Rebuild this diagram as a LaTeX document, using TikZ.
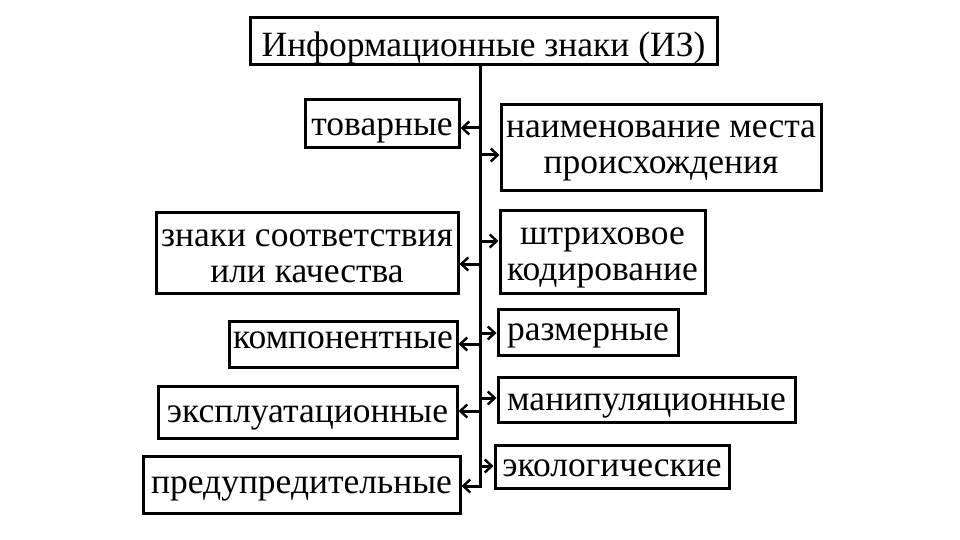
\documentclass[tikz,border=0pt]{standalone}
\usepackage{fontspec}
\setmainfont{Liberation Serif}
\usetikzlibrary{arrows.meta}
\begin{document}
\begin{tikzpicture}[x=1pt,y=-1pt,
  box/.style={draw=black,line width=3pt,inner sep=0pt,align=center,
    font=\fontsize{35.5}{36}\selectfont},
  off/.style={text height=20pt+#1, text depth=20pt-#1},
  offtwo/.style={text height=35pt+#1, text depth=35pt-#1},
  trunkline/.style={line width=3pt},
  arr/.style={line width=3pt,-{Straight Barb[length=7pt,width=13pt,line width=2.4pt]}}]
\useasboundingbox (0,0) rectangle (960,540);
\fill[white] (0,0) rectangle (960,540);
\node[box,off=15.5pt,minimum width=467pt,minimum height=47pt] (title) at (483.5,41.5) {Информационные знаки (ИЗ)};
\node[box,off=12pt,minimum width=154pt,minimum height=48pt] (tov) at (382,124) {товарные};
\node[box,offtwo=26pt,minimum width=320pt,minimum height=85pt] (naim) at (661,147.5) {наименование места\\происхождения};
\node[box,offtwo=29.5pt,minimum width=302pt,minimum height=81pt] (znaki) at (307,252.5) {знаки соответствия\\или качества};
\node[box,offtwo=28.5pt,minimum width=205pt,minimum height=83pt] (shtrih) at (602.5,251.5) {штриховое\\кодирование};
\node[box,off=4.5pt,minimum width=228pt,minimum height=46pt] (komp) at (343,344) {компонентные};
\node[box,off=7.5pt,minimum width=180pt,minimum height=46pt] (razm) at (588,332.5) {размерные};
\node[box,off=9.5pt,minimum width=299pt,minimum height=52pt] (eksp) at (307.5,412.5) {эксплуатационные};
\node[box,off=10.5pt,minimum width=297pt,minimum height=45pt] (manip) at (646.5,399.5) {манипуляционные};
\node[box,off=8pt,minimum width=317pt,minimum height=57pt] (predup) at (301.5,485) {предупредительные};
\node[box,off=10pt,minimum width=234pt,minimum height=43pt] (ekol) at (612,466.5) {экологические};
\coordinate (tk) at (480,488);
\draw[trunkline] (title.south -| tk) -- (tk);
\draw[arr] (tk |- 0,128) -- (tov.east |- 0,128);
\draw[arr] (tk |- 0,155) -- (naim.west |- 0,155);
\draw[arr] (tk |- 0,264) -- (znaki.east |- 0,264);
\draw[arr] (tk |- 0,241) -- (shtrih.west |- 0,241);
\draw[arr] (tk |- 0,344) -- (komp.east |- 0,344);
\draw[arr] (tk |- 0,333) -- (razm.west |- 0,333);
\draw[arr] (tk |- 0,411) -- (eksp.east |- 0,411);
\draw[arr] (tk |- 0,398) -- (manip.west |- 0,398);
\draw[arr] (tk |- 0,486) -- (predup.east |- 0,486);
\draw[arr] (tk |- 0,466) -- (ekol.west |- 0,466);
\end{tikzpicture}
\end{document}
